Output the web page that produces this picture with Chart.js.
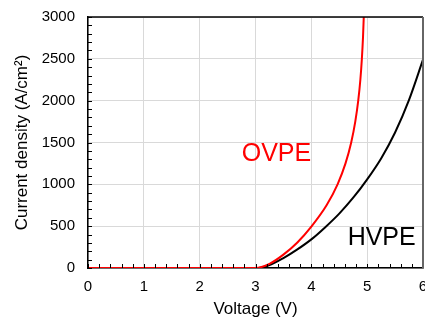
<!DOCTYPE html>
<html>
<head>
<meta charset="utf-8">
<script src="https://cdn.jsdelivr.net/npm/chart.js@4/dist/chart.umd.min.js"></script>
<style>
  html, body { margin: 0; padding: 0; background: #fff; }
  #wrap { width: 425px; height: 320px; }
</style>
</head>
<body>
<div id="wrap"><canvas id="c" width="425" height="320"></canvas></div>
<script>
// ---- data ----
const ovpeVoltage = [0, 1, 2, 3.0, 3.25, 3.5, 3.75, 4.0, 4.273, 4.47, 4.612, 4.714, 4.787, 4.84, 4.878, 4.905, 4.925, 4.939, 4.95];
const ovpeCurrent = [0, 0, 0, 0, 50, 160, 305, 495, 750, 1000, 1250, 1500, 1750, 2000, 2250, 2500, 2750, 3000, 3250];
const hvpeVoltage = [0, 1, 2, 3.0, 3.25, 3.5, 3.75, 4.0, 4.25, 4.5, 4.75, 5.0, 5.25, 5.5, 5.75, 6.0];
const hvpeCurrent = [0, 0, 0, 0, 35, 118, 222, 342, 488, 650, 840, 1060, 1310, 1620, 2010, 2490];
const xTicks = [0, 1, 2, 3, 4, 5, 6];
const yTicks = [0, 500, 1000, 1500, 2000, 2500, 3000];
const seriesLabels = [
  { text: 'OVPE', x: 3.375, y: 1357, color: '#ff0000' },
  { text: 'HVPE', x: 5.26, y: 363, color: '#000000' }
];

const toPoints = (xs, ys) => xs.map((x, i) => ({ x: x, y: ys[i] }));

const FONT = "'Liberation Sans', Arial, sans-serif";

const framePlugin = {
  id: 'frame',
  afterDatasetsDraw(chart) {
    const { ctx, chartArea: a, scales } = chart;
    const xs = scales.x, ys = scales.y;
    ctx.save();
    ctx.strokeStyle = '#000';
    ctx.lineWidth = 1;
    ctx.beginPath();
    for (let i = 0; i <= 30; i++) {
      const px = Math.round(xs.getPixelForValue(i * 0.2)) + 0.5;
      ctx.moveTo(px, a.bottom);
      ctx.lineTo(px, a.bottom - 4);
    }
    for (let v = 0; v <= 3000; v += 100) {
      const py = Math.round(ys.getPixelForValue(v)) + 0.5;
      ctx.moveTo(a.left, py);
      ctx.lineTo(a.left + 4, py);
    }
    ctx.stroke();
    ctx.lineWidth = 1.5;
    ctx.beginPath();
    ctx.moveTo(a.left, a.top);
    ctx.lineTo(a.right, a.top);
    ctx.stroke();
    ctx.strokeStyle = '#666';
    ctx.lineWidth = 2;
    ctx.beginPath();
    ctx.moveTo(a.right, a.top);
    ctx.lineTo(a.right, a.bottom);
    ctx.stroke();
    ctx.font = '25px ' + FONT;
    ctx.textAlign = 'center';
    ctx.textBaseline = 'middle';
    seriesLabels.forEach(l => {
      ctx.fillStyle = l.color;
      ctx.fillText(l.text, xs.getPixelForValue(l.x), ys.getPixelForValue(l.y));
    });
    ctx.restore();
  }
};

new Chart(document.getElementById('c'), {
  type: 'line',
  data: {
    datasets: [
      {
        label: 'OVPE',
        data: toPoints(ovpeVoltage, ovpeCurrent),
        borderColor: '#ff0000',
        borderWidth: 2,
        pointRadius: 0,
        cubicInterpolationMode: 'monotone',
        fill: false
      },
      {
        label: 'HVPE',
        data: toPoints(hvpeVoltage, hvpeCurrent),
        borderColor: '#000000',
        borderWidth: 2,
        pointRadius: 0,
        cubicInterpolationMode: 'monotone',
        fill: false
      }
    ]
  },
  options: {
    responsive: false,
    animation: false,
    layout: { padding: { top: 17, right: 2, left: 0, bottom: 0 } },
    plugins: { legend: { display: false }, tooltip: { enabled: false } },
    scales: {
      x: {
        type: 'linear',
        min: 0,
        max: 6,
        afterBuildTicks: s => { s.ticks = xTicks.map(v => ({ value: v })); },
        afterFit: s => { s.height = 52; s.paddingLeft = 0; s.paddingRight = 0; },
        grid: { color: '#d9d9d9', lineWidth: 1, drawTicks: false },
        border: { display: true, color: '#000', width: 1.5 },
        ticks: { color: '#000', font: { family: FONT, size: 15 }, padding: 10, maxRotation: 0, callback: v => String(v) },
        title: { display: true, text: 'Voltage (V)', color: '#000', font: { family: FONT, size: 17 }, padding: { top: 2, bottom: 0 } }
      },
      y: {
        type: 'linear',
        min: 0,
        max: 3000,
        afterBuildTicks: s => { s.ticks = yTicks.map(v => ({ value: v })); },
        afterFit: s => { s.width = 88; s.paddingTop = 0; s.paddingBottom = 0; },
        grid: { color: '#d9d9d9', lineWidth: 1, drawTicks: false },
        border: { display: true, color: '#000', width: 1.5 },
        ticks: { color: '#000', font: { family: FONT, size: 15 }, padding: 13, callback: v => String(v) },
        title: { display: true, text: 'Current density (A/cm²)', color: '#000', font: { family: FONT, size: 17 }, padding: { top: 12, bottom: 0 } }
      }
    }
  },
  plugins: [framePlugin]
});
</script>
</body>
</html>
